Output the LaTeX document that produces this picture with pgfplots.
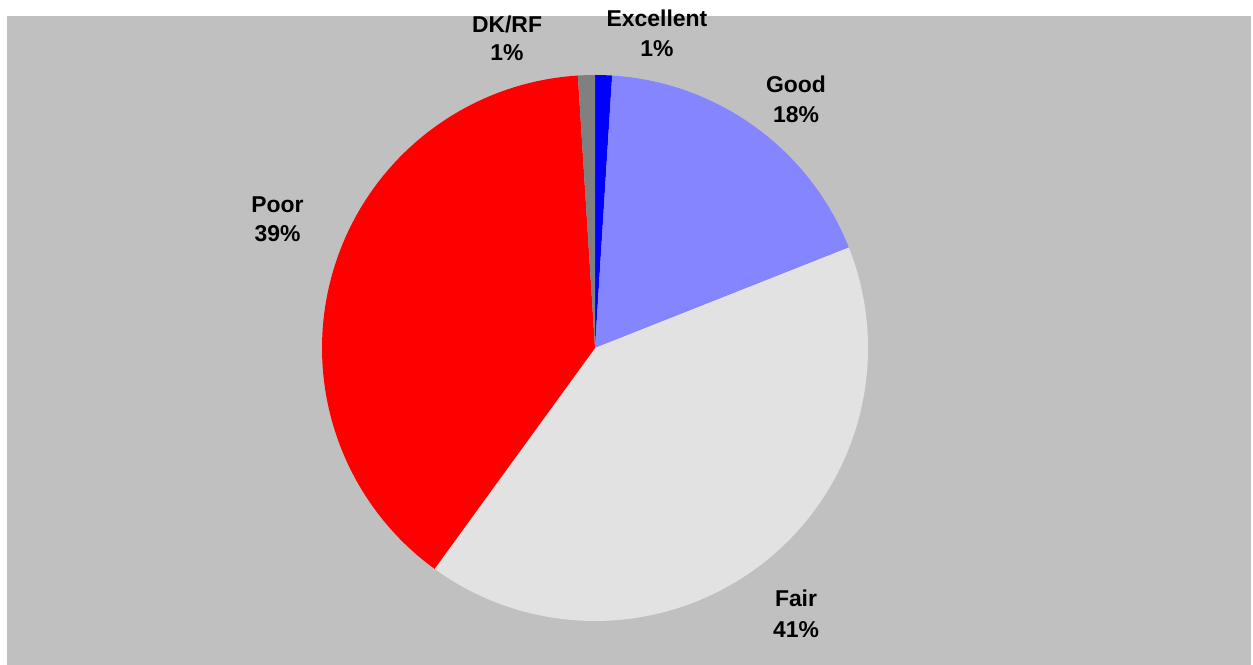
\documentclass[border=0pt]{standalone}
\usepackage{pgfplots}
\pgfplotsset{compat=1.18}
\usepackage{fontspec}
\setmainfont{Liberation Sans}
\definecolor{bggray}{HTML}{C0C0C0}
\definecolor{exblue}{HTML}{0000FF}
\definecolor{goodblue}{HTML}{8585FF}
\definecolor{fairgray}{HTML}{E2E2E2}
\definecolor{poorred}{HTML}{FF0000}
\definecolor{dkgray}{HTML}{808080}
% percentages: Excellent 1, Good 18, Fair 41, Poor 39, DK/RF 1
\begin{document}
\begin{tikzpicture}[x=1bp,y=1bp]
\begin{axis}[
  scale only axis, width=1253bp, height=665bp,
  xmin=0, xmax=1253, ymin=0, ymax=665,
  hide axis, clip=false,
]
\fill[white] (axis cs:0,0) rectangle (axis cs:1253,665);
\fill[bggray] (axis cs:7,0) rectangle (axis cs:1251,649);
% wedges, clockwise from 12 o'clock; angle = cumulative percent * 3.6
\addplot[fill=exblue, draw=none, domain={0*3.6}:{1*3.6}, samples=5, variable=\t]
  ({595+273*sin(\t)},{317+273*cos(\t)}) -- (axis cs:595,317) -- cycle;
\addplot[fill=goodblue, draw=none, domain={1*3.6}:{19*3.6}, samples=60, variable=\t]
  ({595+273*sin(\t)},{317+273*cos(\t)}) -- (axis cs:595,317) -- cycle;
\addplot[fill=fairgray, draw=none, domain={19*3.6}:{60*3.6}, samples=120, variable=\t]
  ({595+273*sin(\t)},{317+273*cos(\t)}) -- (axis cs:595,317) -- cycle;
\addplot[fill=poorred, draw=none, domain={60*3.6}:{99*3.6}, samples=120, variable=\t]
  ({595+273*sin(\t)},{317+273*cos(\t)}) -- (axis cs:595,317) -- cycle;
\addplot[fill=dkgray, draw=none, domain={99*3.6}:{100*3.6}, samples=5, variable=\t]
  ({595+273*sin(\t)},{317+273*cos(\t)}) -- (axis cs:595,317) -- cycle;
% labels
\tikzset{lbl/.style={anchor=base, inner sep=0pt, font=\fontsize{23}{26}\selectfont\bfseries}}
\node[lbl] at (axis cs:657,638) {Excellent};
\node[lbl] at (axis cs:657,608) {1\%};
\node[lbl] at (axis cs:507,632) {DK/RF};
\node[lbl] at (axis cs:507,604) {1\%};
\node[lbl] at (axis cs:796,572) {Good};
\node[lbl] at (axis cs:796,542) {18\%};
\node[lbl] at (axis cs:277.5,452) {Poor};
\node[lbl] at (axis cs:277.5,423) {39\%};
\node[lbl] at (axis cs:796,58) {Fair};
\node[lbl] at (axis cs:796,28) {41\%};
\end{axis}
\end{tikzpicture}
\end{document}
